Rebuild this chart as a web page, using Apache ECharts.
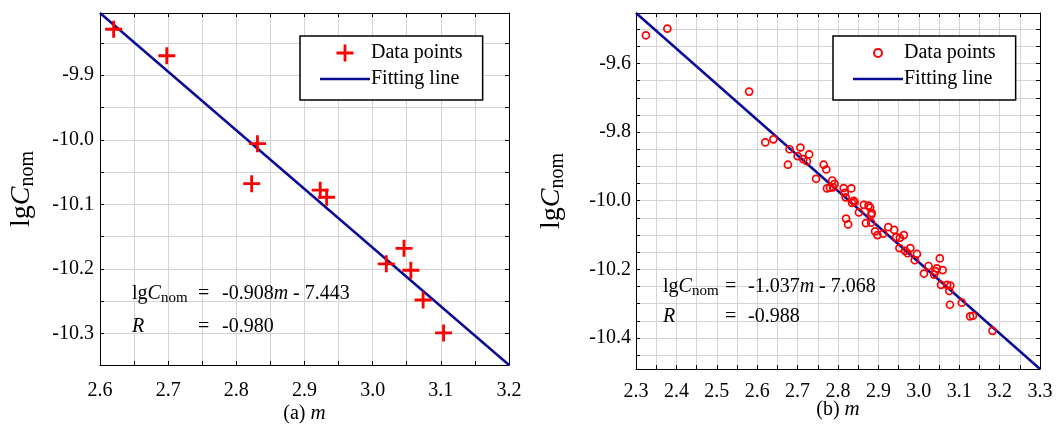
<!DOCTYPE html>
<html>
<head>
<meta charset="utf-8">
<script src="https://cdn.jsdelivr.net/npm/echarts@6/dist/echarts.min.js"></script>
<style>
  html, body { margin: 0; padding: 0; background: #fff; }
  #wrap { width: 1059px; height: 429px; display: flex; }
  #chartA { width: 530px; height: 429px; }
  #chartB { width: 529px; height: 429px; }
</style>
</head>
<body>
<div id="wrap">
  <div id="chartA"></div>
  <div id="chartB"></div>
</div>
<script>
// (a) data points
const mA = [2.620, 2.698, 2.831, 2.8225, 2.923, 2.9325, 3.020, 3.046, 3.056, 3.074, 3.104]
const lgA = [-9.829, -9.870, -10.006, -10.068, -10.078, -10.089, -10.192, -10.168, -10.202, -10.248, -10.299]
const fitA = [-0.908, -7.443]   // slope, intercept
const rangeA = [2.6, 3.2]

// (b) data points
const mB = [2.3245, 2.3776, 2.580, 2.620, 2.640, 2.676, 2.680, 2.700, 2.707, 2.714, 2.723, 2.7286,
  2.7457, 2.7645, 2.771, 2.7727, 2.780, 2.7857, 2.7914, 2.788, 2.814, 2.819, 2.8167, 2.833,
  2.8347, 2.8388, 2.841, 2.820, 2.825, 2.8518, 2.864, 2.8755, 2.8796, 2.8837, 2.882, 2.869,
  2.882, 2.8918, 2.8976, 2.912, 2.9245, 2.939, 2.944, 2.953, 2.963, 2.952, 2.966, 2.972,
  2.979, 2.990, 2.9955, 3.0127, 3.024, 3.038, 3.041, 3.0445, 3.052, 3.059, 3.055, 3.070,
  3.078, 3.0755, 3.077, 3.1065, 3.127, 3.134, 3.1824]
const lgB = [-9.518, -9.4985, -9.682, -9.830, -9.821, -9.895, -9.850, -9.870, -9.845, -9.879, -9.885, -9.865,
  -9.936, -9.895, -9.909, -9.964, -9.962, -9.941, -9.951, -9.961, -9.963, -9.990, -9.977, -9.964,
  -10.006, -10.000, -10.004, -10.052, -10.069, -10.034, -10.012, -10.014, -10.020, -10.036, -10.041, -10.065,
  -10.064, -10.089, -10.100, -10.096, -10.077, -10.085, -10.106, -10.108, -10.100, -10.138, -10.146, -10.153,
  -10.138, -10.173, -10.155, -10.212, -10.190, -10.215, -10.205, -10.197, -10.168, -10.202, -10.245, -10.245,
  -10.247, -10.263, -10.303, -10.297, -10.337, -10.335, -10.379]
const fitB = [-1.037, -7.068]
const rangeB = [2.3, 3.3]

const font = "'Liberation Serif', 'Times New Roman', serif"
const gridColor = '#d4d4d4'
const lineColor = '#0a0a96'
const plusPath = 'path://M7.5,0H10.5V7.5H18V10.5H10.5V18H7.5V10.5H0V7.5H7.5Z'
const legendLine = 'path://M0,0H50V2.5H0Z'

const fitLine = (fit, range) => range.map(m => [m, fit[0] * m + fit[1]])
const zip = (xs, ys) => xs.map((x, i) => [x, ys[i]])

const nameRich = {
    n: { fontFamily: font, fontSize: 28, color: '#000' },
    i: { fontFamily: font, fontSize: 28, fontStyle: 'italic', color: '#000' },
    s: { fontFamily: font, fontSize: 20, color: '#000', padding: [12, 0, 0, 0] }
}
const xNameRich = {
    n: { fontFamily: font, fontSize: 20, color: '#000' },
    i: { fontFamily: font, fontSize: 21, fontStyle: 'italic', color: '#000' }
}
const annRich = {
    n: { fontFamily: font, fontSize: 20, color: '#000' },
    i: { fontFamily: font, fontSize: 20, fontStyle: 'italic', color: '#000' },
    s: { fontFamily: font, fontSize: 15, color: '#000', padding: [9, 0, 0, 0] }
}

// only multiples of the label step get text
const stepLabel = step => v => {
    const k = v / step
    return Math.abs(k - Math.round(k)) < 1e-6 ? v.toFixed(1) : ''
}

function axis(o) {
    const show = o.show !== false
    return {
        type: 'value',
        position: o.position,
        min: o.min, max: o.max,
        interval: o.interval,
        splitNumber: o.splitNumber,
        axisLine: { show: true, onZero: false, lineStyle: { color: '#000', width: 1 } },
        axisTick: { show: true, inside: true, length: 4, lineStyle: { color: '#000' } },
        axisLabel: {
            show: show, fontFamily: font, fontSize: 20, color: '#000',
            margin: o.margin, padding: o.labelPad || 0,
            showMinLabel: o.edgeLabels, showMaxLabel: o.edgeLabels,
            interval: 0, hideOverlap: false,
            formatter: stepLabel(o.labelStep)
        },
        splitLine: { show: show, lineStyle: { color: gridColor, width: 1 } },
        name: show ? o.name : '',
        nameLocation: 'middle', nameGap: o.nameGap, nameRotate: o.nameRotate,
        nameMoveOverlap: false,
        nameTextStyle: { rich: o.rich }
    }
}

const txt = (x, y, text) => ({
    type: 'text', left: x, top: y, z: 100,
    style: { text: text, rich: annRich, fill: '#000' }
})

const yName = '{n|lg}{i|C}{s|nom}'

// one panel: scatter + fitting line, legend box and the fit text
function panel(p) {
    const line = fitLine(p.fit, p.range)
    const xo = { min: p.range[0], max: p.range[1], interval: p.xInterval, labelStep: 0.1, edgeLabels: true }
    const yo = { min: line[1][1], max: line[0][1], splitNumber: p.ySplit, labelStep: p.yStep, edgeLabels: false }
    return {
        animation: false,
        backgroundColor: '#fff',
        grid: { left: p.left, top: 13, width: p.width, height: p.height },
        xAxis: [
            axis(Object.assign({}, xo, { margin: p.xMargin, labelPad: p.xPad, name: p.xName,
                nameGap: p.xNameGap, rich: xNameRich })),
            axis(Object.assign({}, xo, { position: 'top', show: false }))
        ],
        yAxis: [
            axis(Object.assign({}, yo, { margin: p.yMargin, name: yName, nameGap: p.yNameGap,
                nameRotate: 90, rich: nameRich })),
            axis(Object.assign({}, yo, { position: 'right', show: false }))
        ],
        legend: {
            orient: 'vertical',
            left: p.legendLeft,
            top: 36,
            padding: [7, 20, 11, 20],
            itemGap: 6,
            itemWidth: 50,
            itemHeight: p.legendItemHeight,
            borderColor: '#000',
            borderWidth: 1.5,
            backgroundColor: '#fff',
            textStyle: { fontFamily: font, fontSize: 20, color: '#000', lineHeight: 20, padding: [0, 0, 0, -4] },
            data: ['Data points', { name: 'Fitting line', icon: legendLine }]
        },
        series: [
            {
                name: 'Fitting line', type: 'line', data: line,
                symbol: 'none', lineStyle: { color: lineColor, width: 2.5 }, itemStyle: { color: lineColor }, z: 3
            },
            Object.assign({ name: 'Data points', type: 'scatter', data: zip(p.m, p.lg), z: 4 }, p.marker)
        ],
        graphic: p.texts.map(t => txt(t[0], t[1], t[2]))
    }
}

const chartA = echarts.init(document.getElementById('chartA'))
chartA.setOption(panel({
    m: mA, lg: lgA, fit: fitA, range: rangeA,
    left: 100, width: 409, height: 357,
    xInterval: 0.05, ySplit: 10, yStep: 0.1,
    xMargin: 8, xPad: [8, 0, 0, 0], xName: '{n|(a) }{i|m}', xNameGap: 38,
    yMargin: 6, yNameGap: 62,
    legendLeft: 300, legendItemHeight: 17,
    marker: { symbol: plusPath, symbolSize: 17, itemStyle: { color: '#ff0000', opacity: 1 } },
    texts: [
        [132, 284, '{n|lg}{i|C}{s|nom}'],
        [198, 284, '{n|=}'],
        [222, 284, '{n|-0.908}{i|m}{n| - 7.443}'],
        [132, 317, '{i|R}'],
        [198, 317, '{n|=}'],
        [222, 317, '{n|-0.980}']
    ]
}))

const chartB = echarts.init(document.getElementById('chartB'))
chartB.setOption(panel({
    m: mB, lg: lgB, fit: fitB, range: rangeB,
    left: 102, width: 408, height: 356,
    xInterval: 0.05, ySplit: 20, yStep: 0.2,
    xMargin: 8, xPad: [5, 0, 0, 0], xName: '{n|(b) }{i|m}', xNameGap: 30,
    yMargin: 5, yNameGap: 68,
    legendLeft: 303, legendItemHeight: 8,
    marker: { symbol: 'circle', symbolSize: 7,
        itemStyle: { color: 'rgba(255,255,255,0)', borderColor: '#ff0000', borderWidth: 1.7, opacity: 1 } },
    texts: [
        [133, 277, '{n|lg}{i|C}{s|nom}'],
        [195, 277, '{n|=}'],
        [218, 277, '{n|-1.037}{i|m}{n| - 7.068}'],
        [133, 307, '{i|R}'],
        [195, 307, '{n|=}'],
        [218, 307, '{n|-0.988}']
    ]
}))
</script>
</body>
</html>
